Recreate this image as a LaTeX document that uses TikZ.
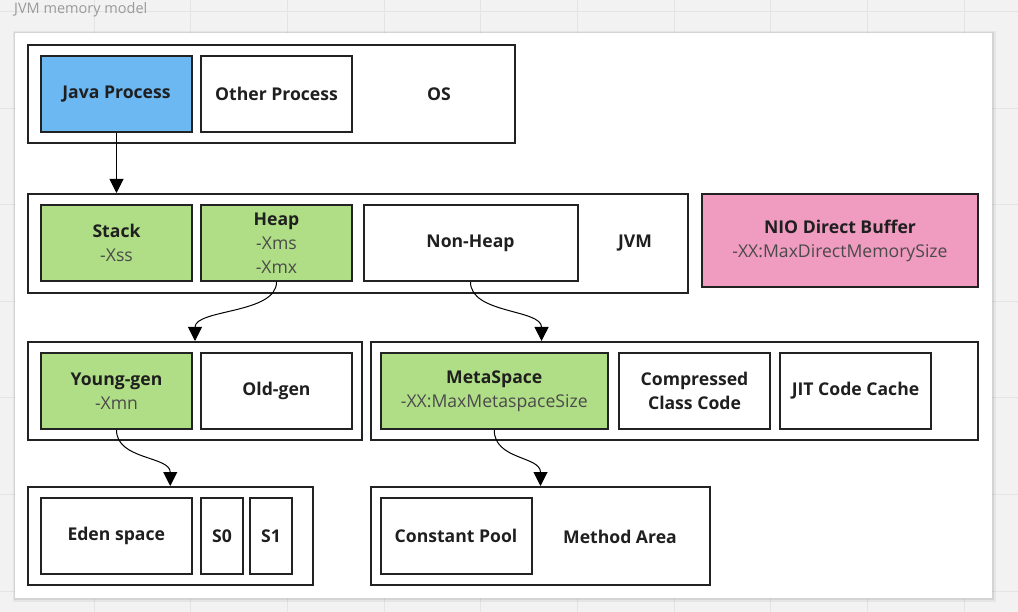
\documentclass[tikz,border=0pt]{standalone}
\usepackage{fontspec}
\setmainfont{Open Sans}
\usetikzlibrary{arrows.meta,calc}
\definecolor{bgc}{HTML}{F2F2F2}
\definecolor{gridc}{HTML}{E4E4E4}
\definecolor{edge}{HTML}{222222}
\definecolor{javablue}{HTML}{6CB8F2}
\definecolor{leaf}{HTML}{B0DE86}
\definecolor{nio}{HTML}{F09BC0}
\definecolor{subtxt}{HTML}{4A4A4A}
\definecolor{titletxt}{HTML}{9A9A9A}
\tikzset{
  box/.style={draw=edge, line width=2pt, fill=white, inner sep=0pt, align=center,
    font=\fontsize{17.6}{24}\selectfont\bfseries, text=black!88},
  lbl/.style={inner sep=0pt, font=\fontsize{17.6}{24}\selectfont\bfseries, text=black!88},
  arr/.style={line width=1pt, black, -{Triangle[width=14pt,length=14pt]}},
}
\newcommand{\subl}[1]{{\mdseries\color{subtxt}#1}}
\begin{document}
\begin{tikzpicture}[x=1pt,y=-1pt]
\useasboundingbox (0,0) rectangle (1018,612);
\fill[bgc] (0,0) rectangle (1018,612);
\foreach \i in {0,...,10} {\draw[gridc, line width=1pt] ({94+96.7*\i},0) -- ({94+96.7*\i},612);}
\foreach \j in {0,...,6} {\draw[gridc, line width=1pt] (0,{11.5+96.6*\j}) -- (1018,{11.5+96.6*\j});}
\node[anchor=west, inner sep=0pt, text=titletxt, font=\fontsize{14.5}{16}\selectfont] (title) at (14,10) {JVM memory model};
% panel with shadow
\fill[black, opacity=0.05] (13,31) rectangle (996,602);
\fill[black, opacity=0.07] (14,32) rectangle (994,600);
\fill[white] (15,33) rectangle (992,598);
% row 1
\node[box, minimum width=487pt, minimum height=98pt] (os) at (271.5,94) {};
\node[box, fill=javablue, minimum width=151pt, minimum height=76pt] (java) at (116.5,94) {Java Process};
\node[box, minimum width=151pt, minimum height=76pt] (other) at (276.5,94) {Other Process};
\node[lbl] (oslbl) at (439,94) {OS};
% row 2
\node[box, minimum width=660pt, minimum height=99pt] (jvm) at (358,243.5) {};
\node[box, fill=leaf, minimum width=151pt, minimum height=76pt] (stack) at (116.5,243) {Stack\\\subl{-Xss}};
\node[box, fill=leaf, minimum width=151pt, minimum height=76pt] (heap) at (276.5,243) {Heap\\\subl{-Xms}\\\subl{-Xmx}};
\node[box, minimum width=214pt, minimum height=76pt] (nonheap) at (470.5,243) {Non-Heap};
\node[lbl] (jvmlbl) at (635,243) {JVM};
\node[box, fill=nio, minimum width=276pt, minimum height=93pt] (niobuf) at (840,240.5) {NIO Direct Buffer\\\subl{-XX:MaxDirectMemorySize}};
% row 3
\node[box, minimum width=334pt, minimum height=98pt] (gen) at (195,391) {};
\node[box, fill=leaf, minimum width=151pt, minimum height=76pt] (young) at (116.5,391) {Young-gen\\\subl{-Xmn}};
\node[box, minimum width=151pt, minimum height=76pt] (old) at (276.5,391) {Old-gen};
\node[box, minimum width=607pt, minimum height=98pt] (nonheapin) at (674.5,391) {};
\node[box, fill=leaf, minimum width=227.5pt, minimum height=76pt] (meta) at (494.25,391) {MetaSpace\\\subl{-XX:MaxMetaspaceSize}};
\node[box, minimum width=151pt, minimum height=76pt] (ccc) at (694.5,391) {Compressed\\Class Code};
\node[box, minimum width=151pt, minimum height=76pt] (jit) at (855.5,391) {JIT Code Cache};
% row 4
\node[box, minimum width=284.5pt, minimum height=98pt] (younggrp) at (170.25,536) {};
\node[box, minimum width=151.5pt, minimum height=76pt] (eden) at (116.25,536) {Eden space};
\node[box, minimum width=42pt, minimum height=76pt] (szero) at (222,536) {S0};
\node[box, minimum width=42pt, minimum height=76pt] (sone) at (271,536) {S1};
\node[box, minimum width=339pt, minimum height=98pt] (methodgrp) at (540.5,536) {};
\node[box, minimum width=151pt, minimum height=76pt] (cpool) at (456,536) {Constant Pool};
\node[lbl] (malbl) at (620,537) {Method Area};
% connectors
\draw[arr] (java.south) -- (java.south |- jvm.north);
\draw[arr] (heap.south) .. controls +(0,32) and +(0,-32) .. (gen.north);
\draw[arr] (nonheap.south) .. controls +(0,32) and +(0,-32) .. ($(nonheapin.north west)!0.2817!(nonheapin.north east)$);
\draw[arr] (young.south) .. controls +(0,30) and +(0,-30) .. (younggrp.north);
\draw[arr] (meta.south) .. controls +(0,30) and +(0,-30) .. (methodgrp.north);
\end{tikzpicture}
\end{document}
